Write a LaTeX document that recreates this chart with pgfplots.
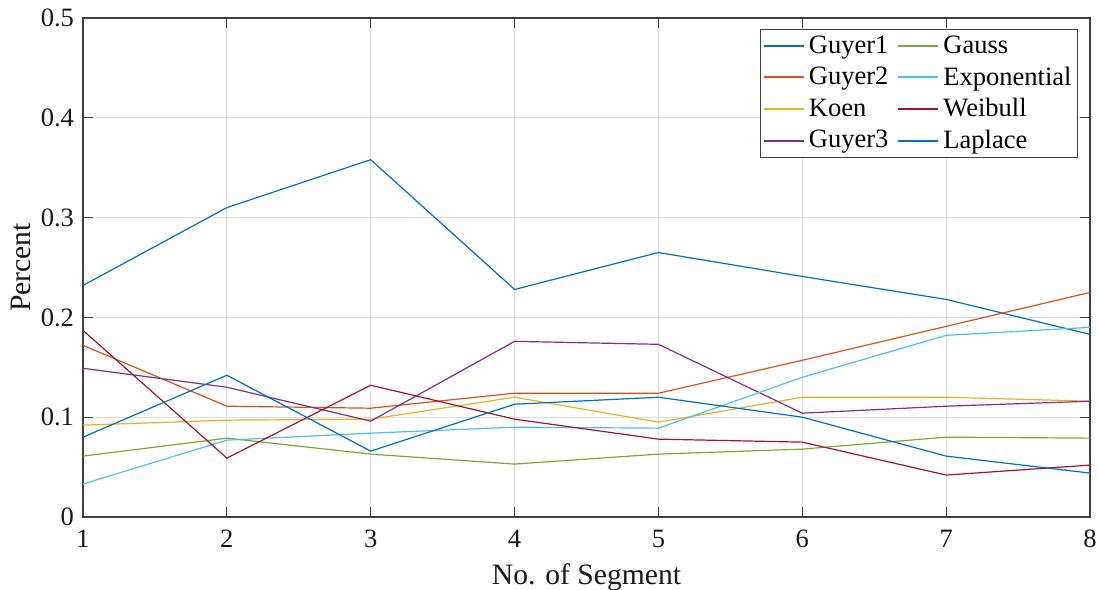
\documentclass[border=0pt]{standalone}
\usepackage{pgfplots}
\pgfplotsset{compat=1.18}
\usepackage{fontspec}
\setmainfont{Liberation Serif}
\definecolor{c1}{HTML}{0072BD}
\definecolor{c2}{HTML}{D95319}
\definecolor{c3}{HTML}{EDB120}
\definecolor{c4}{HTML}{7E2F8E}
\definecolor{c5}{HTML}{77AC30}
\definecolor{c6}{HTML}{4DBEEE}
\definecolor{c7}{HTML}{A2142F}
\definecolor{axc}{HTML}{404040}
\begin{document}
\begin{tikzpicture}
\begin{axis}[
  scale only axis,
  width=503.5pt, height=249.5pt,
  xmin=1, xmax=8, ymin=0, ymax=0.5,
  xtick={1,...,8},
  ytick={0,0.1,0.2,0.3,0.4,0.5},
  yticklabels={0,0.1,0.2,0.3,0.4,0.5},
  grid=major,
  major grid style={color=black!13, line width=0.5pt},
  axis line style={color=axc, line width=0.6pt},
  tick style={color=axc, line width=0.6pt},
  tick align=inside,
  major tick length=5pt,
  xtick pos=both, ytick pos=both,
  /pgf/number format/assume math mode=true,
  tick label style={font=\rmfamily\fontsize{13.25}{16}\selectfont, text=black!90},
  xticklabel style={yshift=-3pt},
  yticklabel style={xshift=-1pt},
  label style={font=\rmfamily\fontsize{14.8}{18}\selectfont, text=black!90},
  xlabel={No. of Segment},
  ylabel={Percent},
  xlabel style={yshift=-1pt},
  ylabel style={yshift=-2pt},
  legend columns=4,
  transpose legend,
  legend cell align=left,
  legend style={
    at={([xshift=-6pt,yshift=-5.5pt]rel axis cs:1,1)}, anchor=north east,
    draw=axc, line width=0.5pt, fill=white,
    font=\rmfamily\fontsize{13.25}{16}\selectfont,
    inner xsep=1pt, inner ysep=1.2pt,
    row sep=1.1pt,
    /tikz/every even column/.append style={column sep=2.5pt},
  },
  legend image code/.code={\draw[#1, line width=1pt] (0pt,0pt) -- (20pt,0pt);},
  every axis plot/.append style={line width=0.6pt, mark=none},
]
\coordinate (sw) at (rel axis cs:0,0);
\coordinate (ne) at (rel axis cs:1,1);
\addplot[c1] coordinates {(1,0.232) (2,0.310) (3,0.358) (4,0.228) (5,0.265) (6,0.241) (7,0.218) (8,0.183)};
\addlegendentry{Guyer1}
\addplot[c2] coordinates {(1,0.172) (2,0.111) (3,0.109) (4,0.124) (5,0.124) (6,0.157) (7,0.191) (8,0.225)};
\addlegendentry{Guyer2}
\addplot[c3] coordinates {(1,0.092) (2,0.097) (3,0.098) (4,0.120) (5,0.095) (6,0.120) (7,0.120) (8,0.116)};
\addlegendentry{Koen}
\addplot[c4] coordinates {(1,0.149) (2,0.130) (3,0.096) (4,0.176) (5,0.173) (6,0.104) (7,0.111) (8,0.116)};
\addlegendentry{Guyer3}
\addplot[c5] coordinates {(1,0.061) (2,0.079) (3,0.063) (4,0.053) (5,0.063) (6,0.068) (7,0.080) (8,0.079)};
\addlegendentry{Gauss}
\addplot[c6] coordinates {(1,0.033) (2,0.077) (3,0.084) (4,0.090) (5,0.089) (6,0.140) (7,0.182) (8,0.190)};
\addlegendentry{Exponential}
\addplot[c7] coordinates {(1,0.187) (2,0.059) (3,0.132) (4,0.098) (5,0.078) (6,0.075) (7,0.042) (8,0.052)};
\addlegendentry{Weibull}
\addplot[c1] coordinates {(1,0.080) (2,0.142) (3,0.066) (4,0.113) (5,0.120) (6,0.100) (7,0.061) (8,0.044)};
\addlegendentry{Laplace}
\end{axis}
\pgfresetboundingbox
\path ([xshift=-41.5pt,yshift=-36.5pt]sw) rectangle ([xshift=4pt,yshift=9pt]ne);
\end{tikzpicture}
\end{document}
